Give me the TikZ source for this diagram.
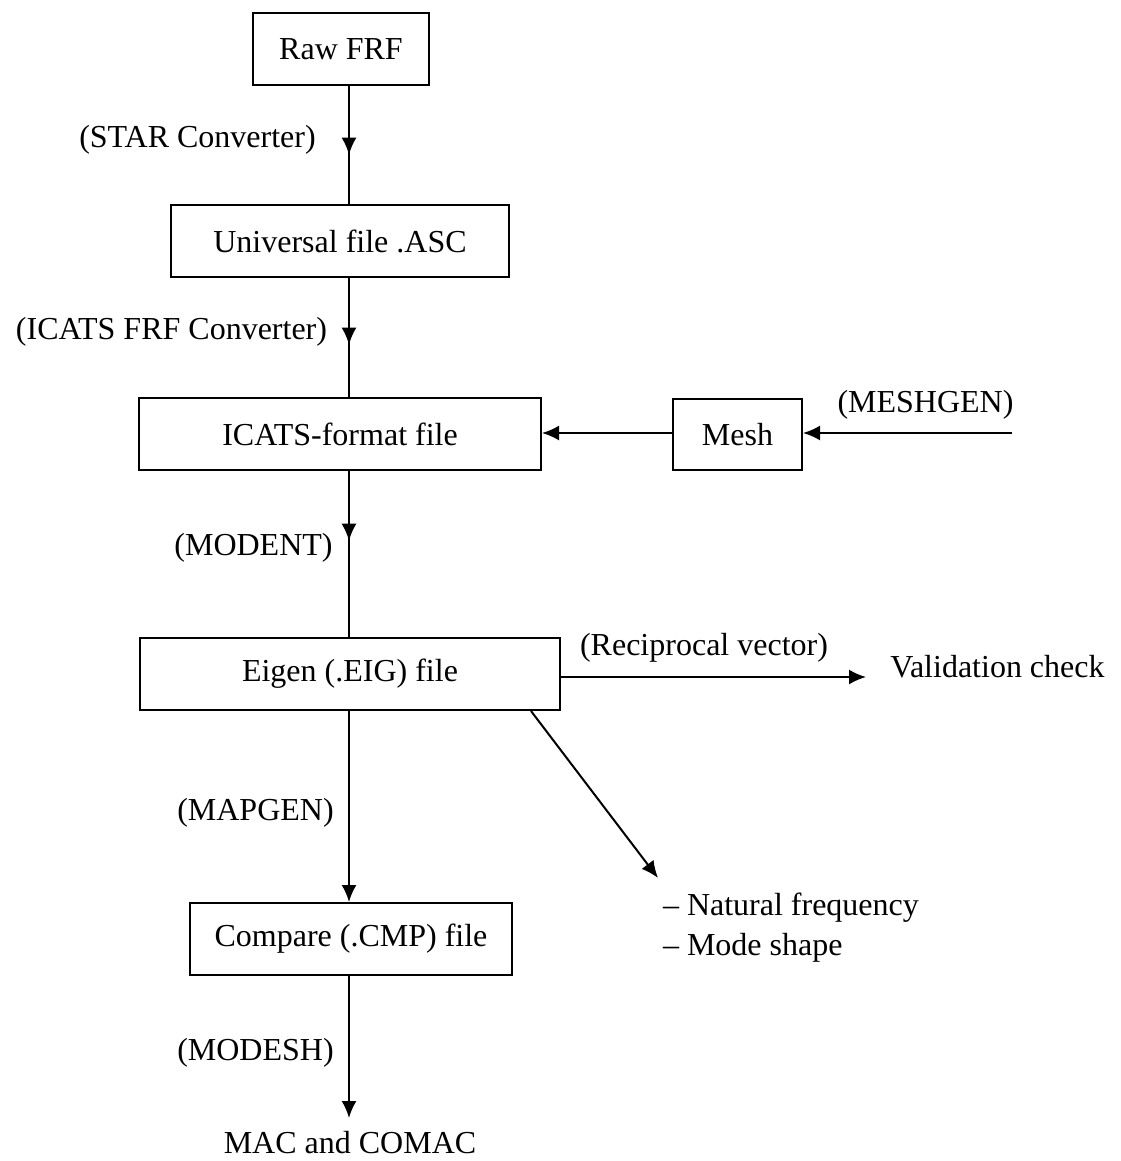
\documentclass[tikz,border=0pt]{standalone}
\usepackage{fontspec}
\setmainfont{Liberation Serif}
\usepackage{tikz}
\usetikzlibrary{arrows.meta, decorations.markings}

\tikzset{
    box/.style={draw, line width=1pt, inner sep=0pt, minimum height=36pt},
    lbl/.style={inner sep=0pt},
    midarrow/.style={postaction={decorate}, decoration={markings,
        mark=at position #1 with {\arrow{Latex[length=8.5pt,width=7.5pt]}}}}
}

\begin{document}
\begin{tikzpicture}[x=0.5pt, y=-0.5pt, line width=1pt,
    >={Latex[length=8.5pt,width=7.5pt]},
    font=\fontsize{16}{20}\selectfont]
    \useasboundingbox (0,0) rectangle (1120,1161);

    % Các hộp chính
    \node[box, minimum width=88pt]  (raw)   at (341,49.5) {Raw FRF};
    \node[box, minimum width=169pt] (univ)  at (340,241)  {Universal file .ASC};
    \node[box, minimum width=201pt] (icats) at (340,434)  {ICATS-format file};
    \node[box, minimum width=64.5pt, minimum height=35.5pt] (mesh) at (737.5,434.5) {Mesh};
    \node[box, minimum width=210pt] (eig)   at (350,674)  {Eigen (.EIG) file};
    \node[box, minimum width=161pt] (cmp)   at (351,939)  {Compare (.CMP) file};

    % Kết quả
    \node[lbl] (valid) at (997.5,667) {Validation check};
    \node[lbl, anchor=west, align=left] (modes) at (662,928)
        {-- Natural frequency\\-- Mode shape};
    \node[lbl] (mac) at (350,1143) {MAC and COMAC};

    % Nhãn các chương trình
    \node[lbl] (lstar)    at (197.5,140) {(STAR Converter)};
    \node[lbl] (licats)   at (171.5,332) {(ICATS FRF Converter)};
    \node[lbl] (lmodent)  at (253.5,548) {(MODENT)};
    \node[lbl] (lmeshgen) at (925.5,405) {(MESHGEN)};
    \node[lbl] (lrecip)   at (704,648)   {(Reciprocal vector)};
    \node[lbl] (lmapgen)  at (255.5,813) {(MAPGEN)};
    \node[lbl] (lmodesh)  at (255.5,1053) {(MODESH)};

    % Đường trục dọc
    \coordinate (spine) at (349,0);
    \coordinate (meshin) at (1012,433);
    \coordinate (vtip) at (866,677);
    \coordinate (dtip) at (658,878);
    \coordinate (mactip) at (349,1118);

    \draw[midarrow=0.58] (raw.south -| spine) -- (univ.north -| spine);
    \draw[midarrow=0.56] (univ.south -| spine) -- (icats.north -| spine);
    \draw[midarrow=0.42] (icats.south -| spine) -- (eig.north -| spine);
    \draw[->] (eig.south -| spine) -- (cmp.north -| spine);
    \draw[->] (cmp.south -| spine) -- (mactip);

    % Nhánh ngang
    \draw[->] (meshin) -- (mesh.east |- meshin);
    \draw[->] (mesh.west |- meshin) -- (icats.east |- meshin);
    \draw[->] (eig.east |- vtip) -- (vtip);
    \draw[->] ([xshift=-15pt]eig.south east) -- (dtip);
\end{tikzpicture}
\end{document}
